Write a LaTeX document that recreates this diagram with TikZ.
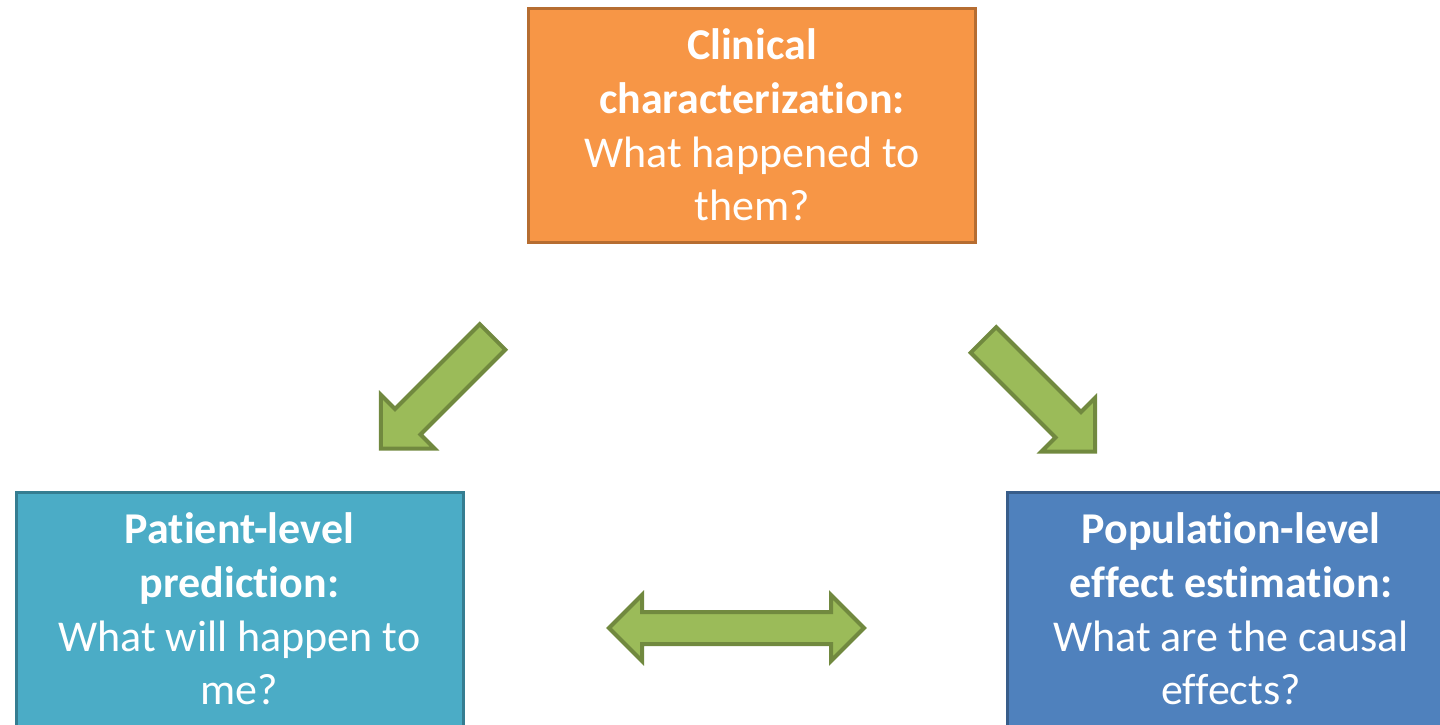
\documentclass[tikz,border=0pt]{standalone}
\usepackage{fontspec}
\setmainfont{Carlito}[Ligatures=NoCommon]
\usetikzlibrary{shapes.arrows,positioning}
\definecolor{ccfill}{HTML}{F79646}
\definecolor{ccline}{HTML}{B66D31}
\definecolor{plpfill}{HTML}{4BACC6}
\definecolor{plpline}{HTML}{357D91}
\definecolor{plefill}{HTML}{4F81BD}
\definecolor{pleline}{HTML}{385D8A}
\definecolor{arrfill}{HTML}{9BBB59}
\definecolor{arrline}{HTML}{71893F}
\tikzset{blk/.style={draw, line width=1.5pt, minimum width=223.5pt, minimum height=117pt, inner sep=0pt, text=white, align=center, font=\fontsize{22pt}{26.8pt}\selectfont},
  fat/.style={single arrow, draw=arrline, fill=arrfill, line width=2pt, single arrow tip angle=90, single arrow head extend=10pt, inner xsep=0pt, inner ysep=8pt, minimum width=0pt, minimum height=79pt, anchor=tail},
  twin/.style={double arrow, draw=arrline, fill=arrfill, line width=2pt, double arrow tip angle=90, double arrow head extend=8.5pt, inner xsep=0pt, inner ysep=7pt, minimum width=0pt, minimum height=127.5pt}}

\begin{document}
\begin{tikzpicture}[x=0.5pt, y=-0.5pt]
  \useasboundingbox (0,0) rectangle (1440,724);
  % study boxes
  \node[blk, fill=ccfill, draw=ccline] (cc) at (752,125) {\textbf{Clinical}\\\textbf{characterization:}\\What happened to\\them?};
  \node[blk, fill=plpfill, draw=plpline] (plp) at (239.5,609) {\textbf{Patient-level}\\\textbf{prediction:}\\What will happen to\\me?};
  \node[blk, fill=plefill, draw=pleline] (ple) at (1231,609) {\textbf{Population-level}\\\textbf{effect estimation:}\\What are the causal\\effects?};
  % block arrows
  \node[fat, rotate=225] (cc2plp) at (494,335.5) {};
  \node[fat, rotate=-45] (cc2ple) at (982,338.5) {};
  \node[twin] (plp2ple) at (736.5,628) {};
\end{tikzpicture}
\end{document}
